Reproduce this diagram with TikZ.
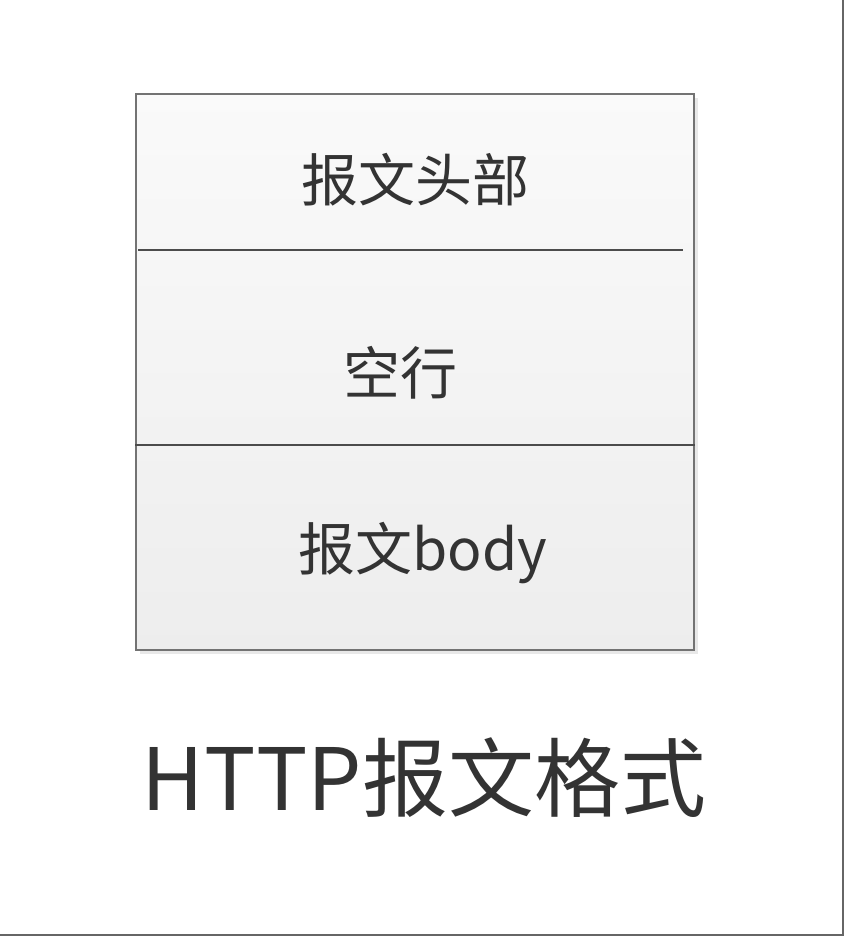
\documentclass[tikz,border=0pt]{standalone}
\usepackage{fontspec}
\setmainfont{Noto Sans CJK SC}
\usetikzlibrary{shadows}
\begin{document}
\begin{tikzpicture}[x=1pt,y=-1pt]
\tikzstyle{msgbox}=[draw=black!55, line width=1.3pt, top color=black!2, bottom color=black!7,
  minimum width=558pt, minimum height=556pt, inner sep=0pt,
  drop shadow={shadow xshift=4pt, shadow yshift=-4pt, fill=black!9, opacity=1}]
\tikzstyle{part}=[text=black!80, font=\fontsize{57}{60}\selectfont, inner sep=0pt]
\tikzstyle{divider}=[draw=black!70, line width=1.1pt]
\useasboundingbox (0,0) rectangle (844,936);
\draw[black!60, line width=2pt] (843,0) -- (843,935) -- (0,935);
\node[msgbox] (box) at (415,372) {};
\node[part] (head) at (415,180) {报文头部};
\node[part] (blank) at (400,373) {空行};
\node[part] (body) at (423,553) {报文body};
\node[text=black!80, font=\fontsize{86}{90}\selectfont, inner sep=0pt] (title) at (424,778) {HTTP报文格式};
\coordinate (d1a) at (138,250);
\coordinate (d1b) at (683,250);
\draw[divider] (d1a) -- (d1b);
\draw[divider] (box.west |- 0,445) -- (box.east |- 0,445);
\end{tikzpicture}
\end{document}
